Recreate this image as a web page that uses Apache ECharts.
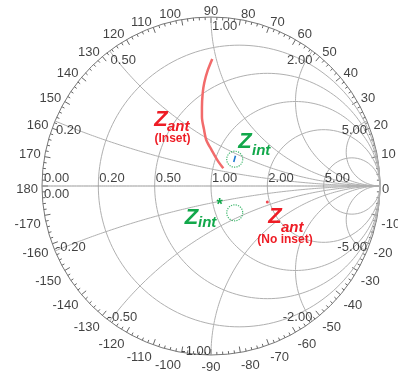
<!DOCTYPE html>
<html><head><meta charset="utf-8">
<script src="https://cdn.jsdelivr.net/npm/echarts@6/dist/echarts.min.js"></script>
<style>html,body{margin:0;padding:0;background:#fff}#c{width:398px;height:378px}</style>
</head><body><div id="c"></div>
<script>
// Smith chart grid values (normalized)
const resistanceValues = [0.2, 0.5, 1, 2, 5];
const reactanceValues = [0.2, 0.5, 1, 2, 5, -0.2, -0.5, -1, -2, -5];
const resistanceLabels = ['0.00', '0.20', '0.50', '1.00', '2.00', '5.00'];
const reactanceLabels = ['0.20', '0.50', '1.00', '2.00', '5.00', '-0.20', '-0.50', '-1.00', '-2.00', '-5.00'];
// angle of the reflection coefficient, degrees
const angleTicks = [-170, -160, -150, -140, -130, -120, -110, -100, -90, -80, -70, -60, -50, -40, -30, -20, -10,
  0, 10, 20, 30, 40, 50, 60, 70, 80, 90, 100, 110, 120, 130, 140, 150, 160, 170, 180];

// Antenna impedance, inset feed (normalized r + jx)
const zAntInsetR = [1.13, 1.03, 0.92, 0.82, 0.74, 0.65, 0.59, 0.50, 0.43, 0.35, 0.28];
const zAntInsetX = [0.24, 0.32, 0.41, 0.48, 0.56, 0.64, 0.70, 0.78, 0.84, 0.91, 0.97];
// Interface impedance sweep
const zIntR = [1.25, 1.24];
const zIntX = [0.37, 0.47];
// Circled regions: Z_int and its conjugate
const zIntMarkR = [1.25, 1.25];
const zIntMarkX = [0.415, -0.415];
// Antenna impedance without inset
const zAntNoInsetR = [1.94];
const zAntNoInsetX = [-0.42];

const FONT = 'Liberation Sans, Arial, sans-serif';
const RED = '#ee1c25', GREEN = '#12a84b';
const GRID = '#b0b0b0';
const RING = 169;            // chart radius in px
const LABEL_RADIUS = 173 / RING;

// reflection coefficient of a normalized impedance
function gamma(r, x) {
  const d = (r + 1) * (r + 1) + x * x;
  return [(r * r + x * x - 1) / d, 2 * x / d];
}

const series = [];
// constant-resistance circles
resistanceValues.forEach(r => {
  const c = r / (1 + r), rad = 1 / (1 + r), pts = [];
  for (let a = 0; a <= 360; a += 2) {
    const t = a * Math.PI / 180;
    pts.push([c + rad * Math.cos(t), rad * Math.sin(t)]);
  }
  series.push({type: 'line', data: pts, showSymbol: false, silent: true,
    lineStyle: {color: GRID, width: 1}, z: 1});
});
// constant-reactance arcs and the real axis
[0].concat(reactanceValues).forEach(x => {
  const pts = [];
  for (let k = 0; k < 360; k++) {
    const r = Math.tan(k * Math.PI / 720);
    pts.push(gamma(r, x));
  }
  pts.push([1, 0]);
  if (x === 0) pts.unshift([-1, 0]);
  series.push({type: 'line', data: pts, showSymbol: false, silent: true,
    lineStyle: {color: x === 0 ? '#999' : GRID, width: 1}, z: 1});
});

// axis value labels
const rLabelData = [0].concat(resistanceValues).map((r, i) => {
  const g = gamma(r, 0);
  return {value: g, label: {formatter: resistanceLabels[i], position: [i === 0 ? 2 : 1, -1],
    align: 'left', verticalAlign: 'bottom'}};
});
rLabelData.push({value: [-1, 0], label: {formatter: '0.00', position: [2, 2], align: 'left', verticalAlign: 'top'}});
const xLabelData = reactanceValues.map((x, i) => {
  const g = gamma(0, x);
  const right = Math.abs(x) > 1 || x === -1;
  const pos = x > 0;
  return {value: g, label: {formatter: reactanceLabels[i],
    position: [right ? 0 : (x === -0.5 ? -2 : 1), 3],
    align: right ? 'right' : 'left', verticalAlign: pos ? 'top' : 'bottom'}};
});
// angle labels around the rim
const angleLabelData = angleTicks.map(a => {
  const t = a * Math.PI / 180, c = Math.cos(t), s = Math.sin(t);
  const hx = Math.abs(c) < 1e-6 ? 'center' : (c > 0 ? 'left' : 'right');
  const vy = Math.abs(s) < 1e-6 ? 0 : (s > 0 ? -5 : 5);
  return {value: [LABEL_RADIUS * c, LABEL_RADIUS * s], label: {formatter: String(a), position: [0, 0],
    align: hx, verticalAlign: 'middle', offset: [a === 0 ? -2 : 0, 3.7 + vy]}};
});
series.push({type: 'scatter', data: rLabelData.concat(xLabelData, angleLabelData), symbolSize: 0, silent: true,
  clip: false, label: {show: true, color: '#111', fontSize: 13, fontFamily: FONT}, z: 3});

// measured impedances
series.push({type: 'line', data: zAntInsetR.map((r, i) => gamma(r, zAntInsetX[i])), smooth: 0.3,
  showSymbol: false, lineStyle: {color: '#f26b6b', width: 2.5}, z: 5});
series.push({type: 'line', data: zIntR.map((r, i) => gamma(r, zIntX[i])),
  showSymbol: false, lineStyle: {color: '#1f78d1', width: 1.6}, z: 5});
series.push({type: 'scatter', data: zIntMarkR.map((r, i) => gamma(r, zIntMarkX[i])), symbolSize: 16,
  itemStyle: {color: 'rgba(0,0,0,0)', borderColor: GREEN, borderWidth: 1.2, borderType: 'dotted'}, z: 6});
series.push({type: 'scatter', data: zAntNoInsetR.map((r, i) => gamma(r, zAntNoInsetX[i])), symbolSize: 3,
  itemStyle: {color: RED}, z: 6});

function txt(text, x, y, font, fill, align) {
  return {type: 'text', x: x, y: y, z: 20, silent: true,
    style: {text: text, font: font, fill: fill, textAlign: align || 'left', align: align || 'left',
      textVerticalAlign: 'middle', verticalAlign: 'middle'}};
}
const BIG = 'italic bold 22px ' + FONT, SUB = 'italic bold 15px ' + FONT, NOTE = 'bold 12px ' + FONT;

const chart = echarts.init(document.getElementById('c'), null, {renderer: 'canvas'});
chart.setOption({
  animation: false,
  backgroundColor: '#fff',
  polar: {center: [211, 186], radius: RING},
  angleAxis: {type: 'value', min: 0, max: 360, interval: 10, startAngle: 0, clockwise: false,
    axisLine: {show: true, lineStyle: {color: '#777', width: 1}},
    axisTick: {show: true, inside: true, length: 6, lineStyle: {color: '#666'}},
    minorTick: {show: true, splitNumber: 5, length: 3, lineStyle: {color: '#666'}},
    splitLine: {show: false},
    axisLabel: {show: false}},
  radiusAxis: {min: 0, max: 1, axisLine: {show: false}, axisTick: {show: false},
    axisLabel: {show: false}, splitLine: {show: false}},
  grid: {left: 42, top: 17, width: 338, height: 338},
  xAxis: {type: 'value', min: -1, max: 1, show: false},
  yAxis: {type: 'value', min: -1, max: 1, show: false},
  series: series,
  graphic: [
    txt('Z', 161, 119.5, BIG, RED, 'center'),
    txt('ant', 167, 126.5, SUB, RED),
    txt('(Inset)', 172.5, 139, NOTE, RED, 'center'),
    txt('Z', 245, 141.5, BIG, GREEN, 'center'),
    txt('int', 252, 150.5, SUB, GREEN),
    txt('Z', 191.5, 217.5, BIG, GREEN, 'center'),
    txt('int', 198, 222.5, SUB, GREEN),
    txt('*', 219.5, 206, 'bold 16px ' + FONT, GREEN, 'center'),
    txt('Z', 275, 216.5, BIG, RED, 'center'),
    txt('ant', 281, 227.5, SUB, RED),
    txt('(No inset)', 285, 240, NOTE, RED, 'center')
  ]
});
</script></body></html>
